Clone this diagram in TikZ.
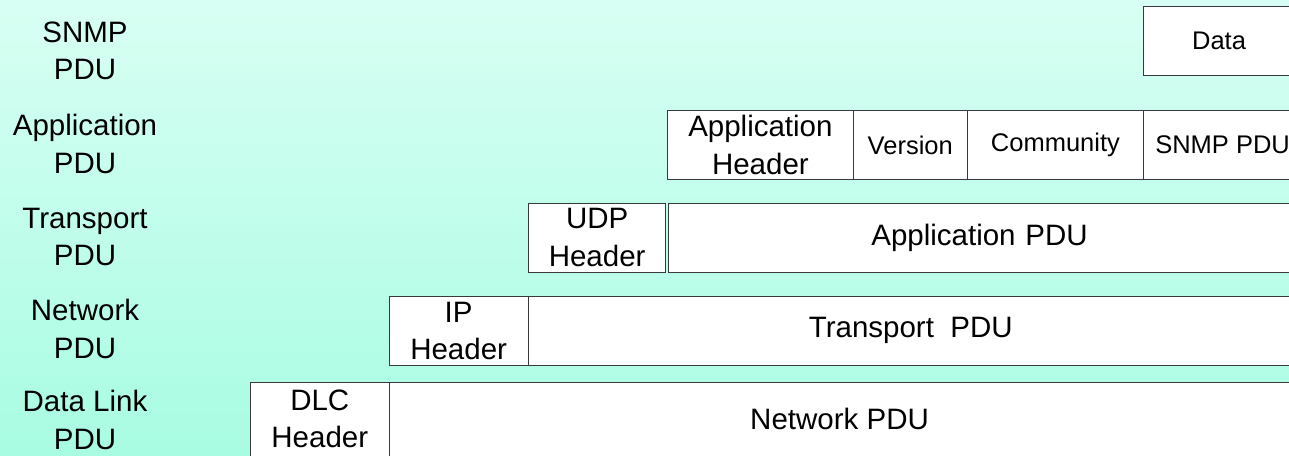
\documentclass[tikz,border=0pt]{standalone}
\usepackage{fontspec}
\setmainfont{Liberation Sans}
\definecolor{bgtop}{RGB}{216,255,243}
\definecolor{bgbot}{RGB}{168,252,226}
\definecolor{edge}{RGB}{58,58,58}
\begin{document}
\begin{tikzpicture}[x=1pt,y=-1pt,
  big/.style={font=\fontsize{29.5}{37.5}\selectfont, align=center},
  small/.style={font=\fontsize{25.5}{30}\selectfont, align=center},
  cell/.style={draw=edge, line width=1.1pt, fill=white, anchor=north west, inner sep=0pt},
  lbl/.style={big, inner sep=0pt}]
\useasboundingbox (0,0) rectangle (1289,455);
\clip (0,0) rectangle (1289,455);
\shade[top color=bgtop, bottom color=bgbot] (0,0) rectangle (1289,455);

% left labels
\node[lbl] (lsnmp) at (85,51)  {SNMP\\PDU};
\node[lbl] (lapp)  at (85,144) {Application\\PDU};
\node[lbl] (ltr)   at (85,237) {Transport\\PDU};
\node[lbl] (lnet)  at (85,329) {Network\\PDU};
\node[lbl] (ldl)   at (85,420) {Data Link\\PDU};

% SNMP PDU row
\node[cell, small, minimum width=151pt, minimum height=69.5pt] (data) at (1143,5.5) {Data};

% Application PDU row
\node[cell, big,   minimum width=185.7pt, minimum height=69pt] (apph) at (667,110) {Application\\Header};
\node[cell, small, minimum width=114pt,   minimum height=69pt] (ver)  at (852.7,110) {Version};
\node[cell, small, minimum width=176.3pt, minimum height=69pt] (com)  at (966.7,110) {Community};
\node[cell, small, minimum width=158pt,   minimum height=69pt] (snmp) at (1143,110) {SNMP PDU};

% Transport PDU row
\node[cell, big, minimum width=137.2pt, minimum height=69pt] (udp)    at (528,202.5) {UDP\\Header};
\node[cell, big, minimum width=622pt,   minimum height=69pt, text width=620pt] (apppdu) at (668,202.5) {Application PDU};

% Network PDU row
\node[cell, big, minimum width=139.2pt, minimum height=69.5pt] (ip)   at (388.5,295.5) {IP\\Header};
\node[cell, big, minimum width=765pt,   minimum height=69.5pt] (tpdu) at (527.7,295.5) {Transport~~PDU};

% Data Link PDU row
\node[cell, big, minimum width=139.5pt, minimum height=74pt] (dlc)  at (249.5,381.5) {DLC\\Header};
\node[cell, big, minimum width=900pt,   minimum height=74pt] (npdu) at (389,381.5) {Network PDU};
\end{tikzpicture}
\end{document}
